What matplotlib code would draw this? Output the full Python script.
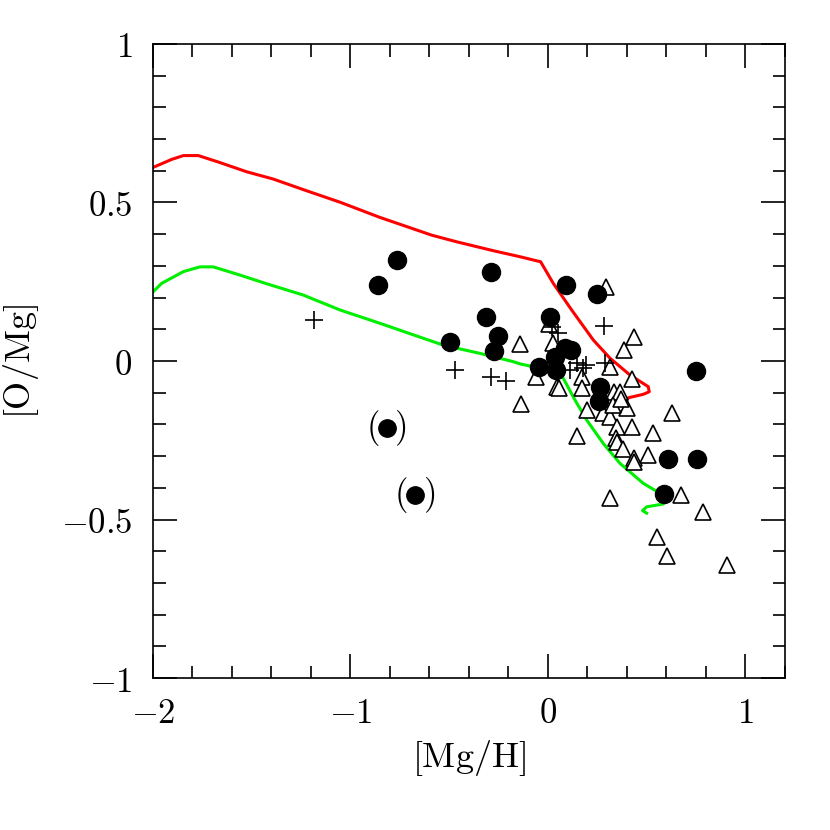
import matplotlib
matplotlib.use("Agg")
import matplotlib.pyplot as plt
from matplotlib.ticker import MultipleLocator, FuncFormatter

plt.rcParams['mathtext.fontset'] = 'cm'
plt.rcParams['font.family'] = 'serif'

# filled circles
dot_x = [-0.861, -0.765, -0.289, -0.314, -0.253, -0.273, -0.496, 0.09, 0.25, 0.01,
         -0.046, 0.085, 0.117, 0.035, 0.041, 0.263, 0.257, 0.748, 0.606, 0.756, 0.587]
dot_y = [0.24, 0.32, 0.28, 0.14, 0.08, 0.03, 0.06, 0.24, 0.21, 0.14,
         -0.019, 0.041, 0.035, 0.014, -0.028, -0.081, -0.126, -0.031, -0.31, -0.31, -0.42]

# uncertain points, shown in parentheses
par_x = [-0.817, -0.673]
par_y = [-0.212, -0.423]

# plus signs
plus_x = [-1.185, -0.471, -0.289, -0.213, 0.052, 0.019, 0.285, 0.145, 0.195, 0.178, 0.288, 0.111]
plus_y = [0.129, -0.028, -0.05, -0.063, 0.087, 0.108, 0.11, -0.007, -0.013, -0.023, -0.007, -0.028]

# open triangles
tri_x = [-0.142, -0.061, -0.135, 0.044, 0.025, 0.294, 0.437, 0.386, 0.005, 0.314, 0.057,
         0.17, 0.17, 0.427, 0.336, 0.365, 0.196, 0.28, 0.398, 0.314, 0.348, 0.424, 0.626,
         0.533, 0.145, 0.344, 0.348, 0.381, 0.435, 0.435, 0.505, 0.314, 0.673, 0.786,
         0.553, 0.604, 0.905, 0.33, 0.372]
tri_y = [0.053, -0.05, -0.136, -0.081, 0.057, 0.234, 0.075, 0.035, 0.117, -0.018, -0.086,
         -0.05, -0.086, -0.058, -0.097, -0.097, -0.155, -0.165, -0.149, -0.176, -0.207, -0.207, -0.165,
         -0.228, -0.237, -0.244, -0.255, -0.276, -0.307, -0.318, -0.297, -0.433, -0.423, -0.475,
         -0.554, -0.615, -0.644, -0.139, -0.12]

# model curves
red_x = [-1.998, -1.905, -1.846, -1.77, -1.661, -1.526, -1.391, -1.222, -1.053, -0.851,
         -0.715, -0.589, -0.462, -0.277, -0.142, -0.037, 0.027, 0.12, 0.23, 0.314, 0.415,
         0.508, 0.513, 0.483, 0.407, 0.395]
red_y = [0.611, 0.636, 0.648, 0.648, 0.626, 0.597, 0.574, 0.537, 0.501, 0.453,
         0.424, 0.397, 0.376, 0.348, 0.329, 0.313, 0.245, 0.161, 0.066, 0.009, -0.044,
         -0.081, -0.097, -0.105, -0.116, -0.128]

green_x = [-1.998, -1.956, -1.846, -1.762, -1.695, -1.559, -1.441, -1.239, -1.053, -0.851,
           -0.665, -0.53, -0.344, -0.176, -0.142, 0.044, 0.078, 0.137, 0.196, 0.28, 0.365,
           0.483, 0.567, 0.597, 0.584, 0.5, 0.479, 0.5]
green_y = [0.219, 0.245, 0.282, 0.297, 0.297, 0.271, 0.247, 0.208, 0.161, 0.119,
           0.079, 0.05, 0.024, -0.002, -0.009, -0.034, -0.055, -0.123, -0.186, -0.26, -0.323,
           -0.386, -0.417, -0.438, -0.451, -0.46, -0.472, -0.48]

fig = plt.figure(figsize=(8.3, 8.3), dpi=100)
ax = fig.add_axes([0.1843, 0.1831, 0.7614, 0.7639])

ax.plot(red_x, red_y, color='#ff0000', linewidth=2.2, zorder=2)
ax.plot(green_x, green_y, color='#00ee00', linewidth=2.2, zorder=2)

ax.plot(tri_x, tri_y, linestyle='none', marker='^', markersize=11.5, markerfacecolor='white',
        markeredgecolor='black', markeredgewidth=1.2, zorder=3)
ax.plot(plus_x, plus_y, linestyle='none', marker='+', markersize=13, color='black',
        markeredgewidth=1.2, zorder=4)
ax.plot(dot_x, dot_y, linestyle='none', marker='o', markersize=13, color='black', zorder=5)
ax.plot(par_x, par_y, linestyle='none', marker='o', markersize=12.5, color='black', zorder=5)
for px, py in zip(par_x, par_y):
    ax.annotate(r'$($', (px, py), xytext=(-10, 0), textcoords='offset points',
                ha='center', va='center', fontsize=25, zorder=5)
    ax.annotate(r'$)$', (px, py), xytext=(10, 0), textcoords='offset points',
                ha='center', va='center', fontsize=25, zorder=5)

ax.set_xlim(-2, 1.2)
ax.set_ylim(-1, 1)
ax.xaxis.set_major_locator(MultipleLocator(1))
ax.xaxis.set_minor_locator(MultipleLocator(0.2))
ax.yaxis.set_major_locator(MultipleLocator(0.5))
ax.yaxis.set_minor_locator(MultipleLocator(0.1))
fmt = FuncFormatter(lambda v, p: r'$%g$' % v)
ax.xaxis.set_major_formatter(fmt)
ax.yaxis.set_major_formatter(fmt)
ax.tick_params(which='both', direction='in', top=True, right=True, width=1.2, labelsize=25)
ax.tick_params(which='major', length=17)
ax.tick_params(which='minor', length=9)
ax.tick_params(axis='x', which='major', pad=13)
ax.tick_params(axis='y', which='major', pad=15)
for s in ax.spines.values():
    s.set_linewidth(1.2)

ax.set_xlabel(r'$\mathrm{[Mg/H]}$', fontsize=26, labelpad=6)
ax.set_ylabel(r'$\mathrm{[O/Mg]}$', fontsize=26, labelpad=14)

fig.savefig('out.png', dpi=100)
